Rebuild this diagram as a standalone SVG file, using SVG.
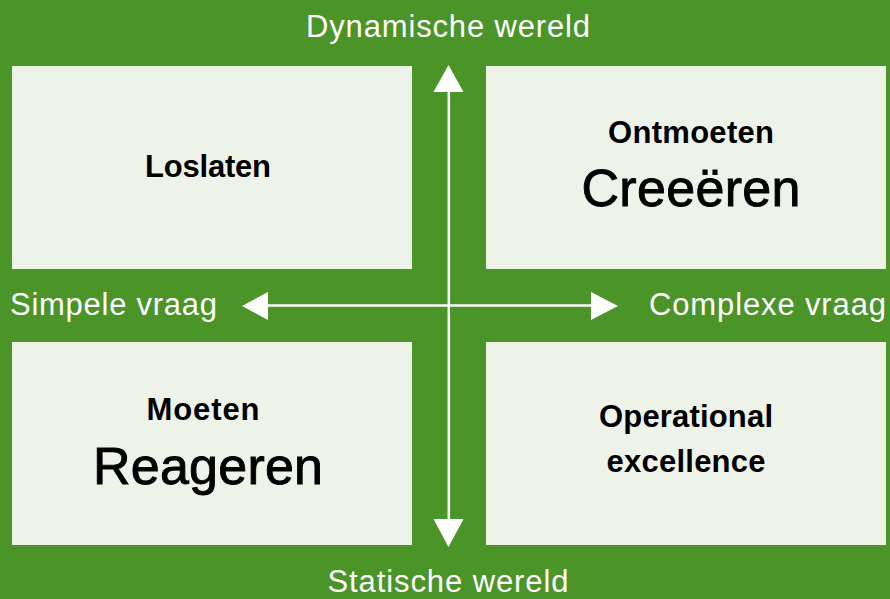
<svg xmlns="http://www.w3.org/2000/svg" width="890" height="599" viewBox="0 0 890 599">
<style>
.box{fill:#eef3ea}
.w{fill:#ffffff;font-family:"Liberation Sans",Arial,sans-serif;font-size:31px}
.b{fill:#000;font-family:"Liberation Sans",Arial,sans-serif;font-size:31px;font-weight:bold;text-anchor:middle}
.big{fill:#000;stroke:#000;stroke-width:0.9;font-family:"Liberation Sans",Arial,sans-serif;font-size:52px;text-anchor:middle}
.ax{stroke:#ffffff;stroke-width:2.5;fill:none}
</style>
<rect width="890" height="599" fill="#4a9428"/>
<g id="loslaten"><rect class="box" x="12" y="66" width="400" height="203"/><text class="b" x="208" y="177" textLength="126">Loslaten</text></g>
<g id="creeeren"><rect class="box" x="486" y="66" width="400" height="203"/><text class="b" x="691" y="143" textLength="166">Ontmoeten</text><text class="big" x="691" y="206" textLength="219">Creeëren</text></g>
<g id="reageren"><rect class="box" x="12" y="342" width="400" height="203"/><text class="b" x="203" y="420" textLength="113">Moeten</text><text class="big" x="208" y="484" textLength="230">Reageren</text></g>
<g id="operational"><rect class="box" x="486" y="342" width="400" height="203"/><text class="b" x="686" y="427" textLength="174">Operational</text><text class="b" x="686" y="472" textLength="159">excellence</text></g>
<g id="connectors">
<line class="ax" x1="448.8" y1="90" x2="448.8" y2="521"/>
<line class="ax" x1="266" y1="305.5" x2="593" y2="305.5"/>
<polygon fill="#fff" points="448.5,65 433.5,92 463.5,92"/>
<polygon fill="#fff" points="448.5,547 433.5,519 463.5,519"/>
<polygon fill="#fff" points="242,306 268,292 268,320"/>
<polygon fill="#fff" points="618,306 591,292 591,320"/>
</g>
<g id="labels">
<text class="w" x="448" y="37" text-anchor="middle" textLength="284">Dynamische wereld</text>
<text class="w" x="448" y="592" text-anchor="middle" textLength="241">Statische wereld</text>
<text class="w" x="10" y="315" textLength="207">Simpele vraag</text>
<text class="w" x="649" y="315" textLength="237">Complexe vraag</text>
</g>
</svg>
